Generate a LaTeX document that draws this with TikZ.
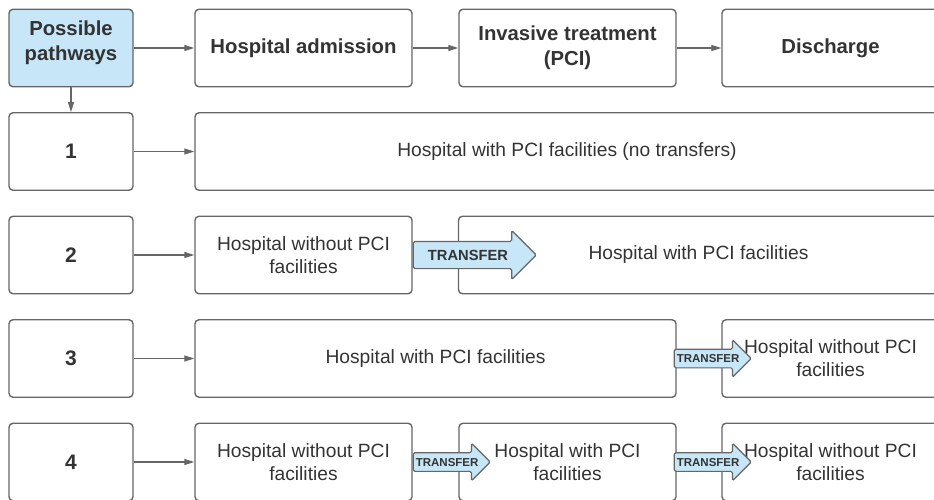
\documentclass[tikz,border=0pt]{standalone}
\usepackage{fontspec}
\setmainfont{Liberation Sans}
\usepackage{xcolor}
\usetikzlibrary{positioning,shapes.arrows,arrows.meta}

\definecolor{boxgray}{HTML}{666666}
\definecolor{txtgray}{HTML}{333333}
\definecolor{pathblue}{HTML}{C7E6F7}

\tikzset{
    box/.style={draw=boxgray, line width=1.4pt, rounded corners=4pt, text=txtgray,
        minimum height=77.5pt, align=center, inner sep=2pt,
        font=\fontsize{19.2}{23}\selectfont},
    headbox/.style={box, minimum width=217pt, font=\fontsize{20.3}{25}\selectfont\bfseries},
    numbox/.style={box, minimum width=124pt, font=\fontsize{21}{25}\selectfont\bfseries},
    link/.style={draw=boxgray, line width=1.2pt, -{Triangle[length=10pt,width=6pt]}},
    xfer/.style={single arrow, draw=boxgray, fill=pathblue, line width=1.2pt,
        rounded corners=1.5pt, text=txtgray, text depth=0pt, anchor=tail},
    bigxfer/.style={xfer, font=\fontsize{14.7}{15}\selectfont\bfseries, text height=10.5pt,
        inner ysep=7.75pt, single arrow head extend=11pt, minimum height=123pt},
    smallxfer/.style={xfer, font=\fontsize{11.5}{12}\selectfont\bfseries, text height=8.5pt,
        inner ysep=4.5pt, single arrow head extend=9.5pt, minimum height=77pt}
}

\begin{document}
\begin{tikzpicture}[x=1pt, y=-1pt]
    \useasboundingbox (0,0) rectangle (934,499);
    \clip (0,0) rectangle (934,499);

    % header row
    \node[headbox, fill=pathblue, minimum width=124pt, text depth=14pt] (paths) at (71,48) {Possible\\pathways};
    \node[headbox] (adm) at (303.5,48) {Hospital admission};
    \node[headbox] (inv) at (567.5,48) {Invasive treatment\\(PCI)};
    \node[headbox] (dis) at (830.5,48) {Discharge};

    % pathway numbers
    \foreach \i/\y in {1/151.5, 2/255, 3/358.5, 4/462}
        \node[numbox] (n\i) at (71,\y) {\i};

    % pathway 1
    \node[box, minimum width=744pt] (s1) at (567,151.5) {Hospital with PCI facilities (no transfers)};

    % pathway 2
    \node[box, minimum width=217pt] (s2) at (303.5,255) {Hospital without PCI\\facilities};
    \node[box, minimum width=480pt] (s2b) at (698.5,255) {Hospital with PCI facilities};

    % pathway 3
    \node[box, minimum width=481pt] (s3) at (435.5,358.5) {Hospital with PCI facilities};
    \node[box, minimum width=217pt] (s3b) at (830.5,358.5) {Hospital without PCI\\facilities};

    % pathway 4
    \node[box, minimum width=217pt] (s4) at (303.5,462) {Hospital without PCI\\facilities};
    \node[box, minimum width=217pt] (s4b) at (567.5,462) {Hospital with PCI\\facilities};
    \node[box, minimum width=217pt] (s4c) at (830.5,462) {Hospital without PCI\\facilities};

    % connectors
    \draw[link] (paths) -- (adm);
    \draw[link] (adm) -- (inv);
    \draw[link] (inv) -- (dis);
    \draw[link] (paths) -- (n1);
    \foreach \i in {1,...,4}
        \draw[link] (n\i) -- (s\i);

    % transfers
    \node[bigxfer] (t2) at (s2.east) {\makebox[0pt]{TRANSFER}};
    \node[smallxfer] (t3) at ([xshift=-3pt]s3.east) {\makebox[0pt]{TRANSFER}};
    \node[smallxfer] (t4) at (s4.east) {\makebox[0pt]{TRANSFER}};
    \node[smallxfer] (t4b) at ([xshift=-3pt]s4b.east) {\makebox[0pt]{TRANSFER}};
\end{tikzpicture}
\end{document}
